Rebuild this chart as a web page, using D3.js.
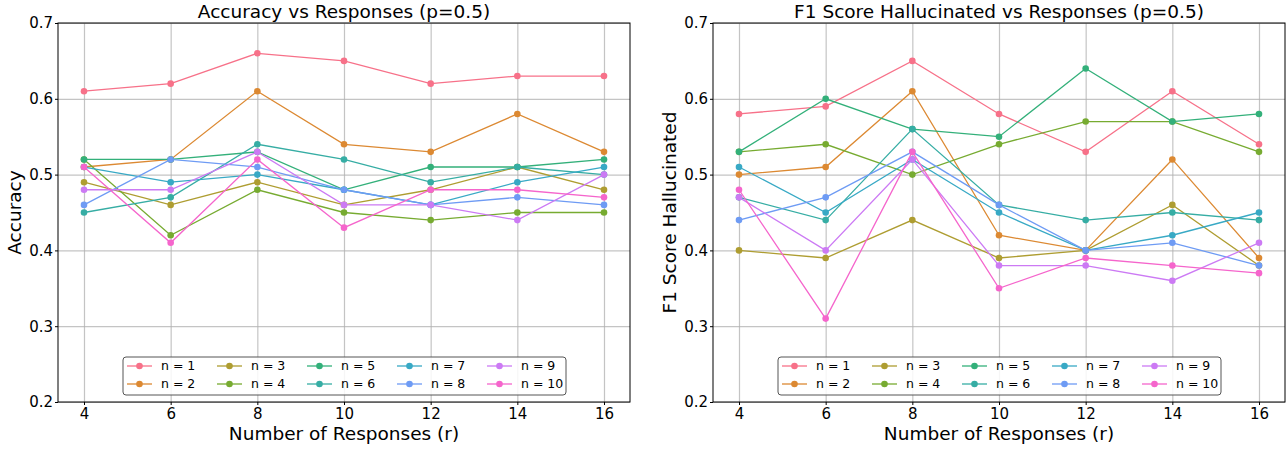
<!DOCTYPE html>
<meta charset="utf-8">
<style>
body { margin: 0; background: #fff; }
svg { font-family: "DejaVu Sans", sans-serif; }
.grid line { stroke: #b0b0b0; stroke-opacity: .75; stroke-width: 1.2; }
.grid path { display: none; }
.axis path, .axis line { stroke: #000; stroke-width: 1; }
.axis text { font-family: "DejaVu Sans", sans-serif; font-size: 15px; fill: #000; }
.series path { fill: none; stroke-width: 1.3; }
.label { font-size: 18.5px; }
</style>
<body>
<script src="https://cdnjs.cloudflare.com/ajax/libs/d3/7.8.5/d3.min.js"></script>
<script>

var responses = [4, 6, 8, 10, 12, 14, 16];
var labels = ["n = 1", "n = 2", "n = 3", "n = 4", "n = 5", "n = 6", "n = 7", "n = 8", "n = 9", "n = 10"];
var palette = ["#f77189", "#dc8932", "#ae9d31", "#77ab31", "#33b07a", "#36ada4", "#38a9c5", "#6e9bf4", "#cc7af4", "#f565cc"];
var yTicks = [0.2, 0.3, 0.4, 0.5, 0.6, 0.7];

// accuracy, one row per n
var accuracy = [
  [.61, .62, .66, .65, .62, .63, .63],
  [.51, .52, .61, .54, .53, .58, .53],
  [.49, .46, .49, .46, .48, .51, .48],
  [.52, .42, .48, .45, .44, .45, .45],
  [.52, .52, .53, .48, .51, .51, .52],
  [.45, .47, .54, .52, .49, .51, .50],
  [.51, .49, .50, .48, .46, .49, .51],
  [.46, .52, .51, .48, .46, .47, .46],
  [.48, .48, .53, .46, .46, .44, .50],
  [.51, .41, .52, .43, .48, .48, .47]
];

// f1 score (hallucinated), one row per n
var f1 = [
  [.58, .59, .65, .58, .53, .61, .54],
  [.50, .51, .61, .42, .40, .52, .39],
  [.40, .39, .44, .39, .40, .46, .38],
  [.53, .54, .50, .54, .57, .57, .53],
  [.53, .60, .56, .55, .64, .57, .58],
  [.47, .44, .56, .46, .44, .45, .44],
  [.51, .45, .52, .45, .40, .42, .45],
  [.44, .47, .53, .46, .40, .41, .38],
  [.47, .40, .52, .38, .38, .36, .41],
  [.48, .31, .53, .35, .39, .38, .37]
];

var panels = [
  { left: 58, title: "Accuracy vs Responses (p=0.5)", ylabel: "Accuracy", ylabelX: 21, data: accuracy },
  { left: 713, title: "F1 Score Hallucinated vs Responses (p=0.5)", ylabel: "F1 Score Hallucinated", ylabelX: 676, data: f1 }
];

var width = 572, plotTop = 23, plotBottom = 402;

var svg = d3.select("body").append("svg")
    .attr("width", 1288)
    .attr("height", 450);

panels.forEach(function(p) {
  var x = d3.scaleLinear().domain([3.4, 16.6]).range([p.left, p.left + width]);
  var y = d3.scaleLinear().domain([0.2, 0.7]).range([plotBottom, plotTop]);

  var g = svg.append("g");

  g.append("g")
      .attr("class", "grid")
      .attr("transform", "translate(0," + plotBottom + ")")
      .call(d3.axisBottom(x).tickValues(responses).tickSize(-(plotBottom - plotTop)).tickFormat(""));
  g.append("g")
      .attr("class", "grid")
      .attr("transform", "translate(" + p.left + ",0)")
      .call(d3.axisLeft(y).tickValues(yTicks).tickSize(-width).tickFormat(""));

  var line = d3.line()
      .x(function(d, i) { return x(responses[i]); })
      .y(function(d) { return y(d); });

  var s = g.selectAll(".series")
      .data(p.data)
    .enter().append("g")
      .attr("class", "series");

  s.append("path")
      .attr("d", line)
      .style("stroke", function(d, i) { return palette[i]; });

  s.each(function(row, i) {
    d3.select(this).selectAll("circle")
        .data(row)
      .enter().append("circle")
        .attr("cx", function(d, j) { return x(responses[j]); })
        .attr("cy", function(d) { return y(d); })
        .attr("r", 3.3)
        .style("fill", palette[i]);
  });

  g.append("rect")
      .attr("x", p.left)
      .attr("y", plotTop)
      .attr("width", width)
      .attr("height", plotBottom - plotTop)
      .style("fill", "none")
      .style("stroke", "#000")
      .style("stroke-width", 1);

  g.append("g")
      .attr("class", "axis")
      .attr("transform", "translate(0," + plotBottom + ")")
      .call(d3.axisBottom(x).tickValues(responses).tickSize(3).tickPadding(3))
      .select(".domain").remove();
  g.append("g")
      .attr("class", "axis")
      .attr("transform", "translate(" + p.left + ",0)")
      .call(d3.axisLeft(y).tickValues(yTicks).tickFormat(d3.format(".1f")).tickSize(3).tickPadding(2))
      .select(".domain").remove();

  g.append("text")
      .attr("class", "label")
      .attr("x", p.left + width / 2)
      .attr("y", 18)
      .attr("text-anchor", "middle")
      .text(p.title);

  g.append("text")
      .attr("class", "label")
      .attr("x", p.left + width / 2)
      .attr("y", 440)
      .attr("text-anchor", "middle")
      .text("Number of Responses (r)");

  g.append("text")
      .attr("class", "label")
      .attr("transform", "translate(" + p.ylabelX + "," + ((plotTop + plotBottom) / 2) + ") rotate(-90)")
      .attr("text-anchor", "middle")
      .text(p.ylabel);

  // legend
  var lx = p.left + 65, ly = 357;
  var leg = g.append("g").attr("transform", "translate(" + lx + "," + ly + ")");
  leg.append("rect")
      .attr("width", 443)
      .attr("height", 38)
      .attr("rx", 3)
      .style("fill", "#fff")
      .style("fill-opacity", 0.85)
      .style("stroke", "#555")
      .style("stroke-width", 1);

  labels.forEach(function(lab, i) {
    var col = Math.floor(i / 2), row = i % 2;
    var item = leg.append("g")
        .attr("transform", "translate(" + (4 + col * 90) + "," + (9 + row * 18) + ")");
    item.append("line")
        .attr("x1", 0).attr("x2", 25)
        .style("stroke", palette[i])
        .style("stroke-width", 1.3);
    item.append("circle")
        .attr("cx", 12.5)
        .attr("r", 3.3)
        .style("fill", palette[i]);
    item.append("text")
        .attr("x", 34)
        .attr("dy", "0.35em")
        .style("font-size", "12.5px")
        .text(lab);
  });
});

</script>
